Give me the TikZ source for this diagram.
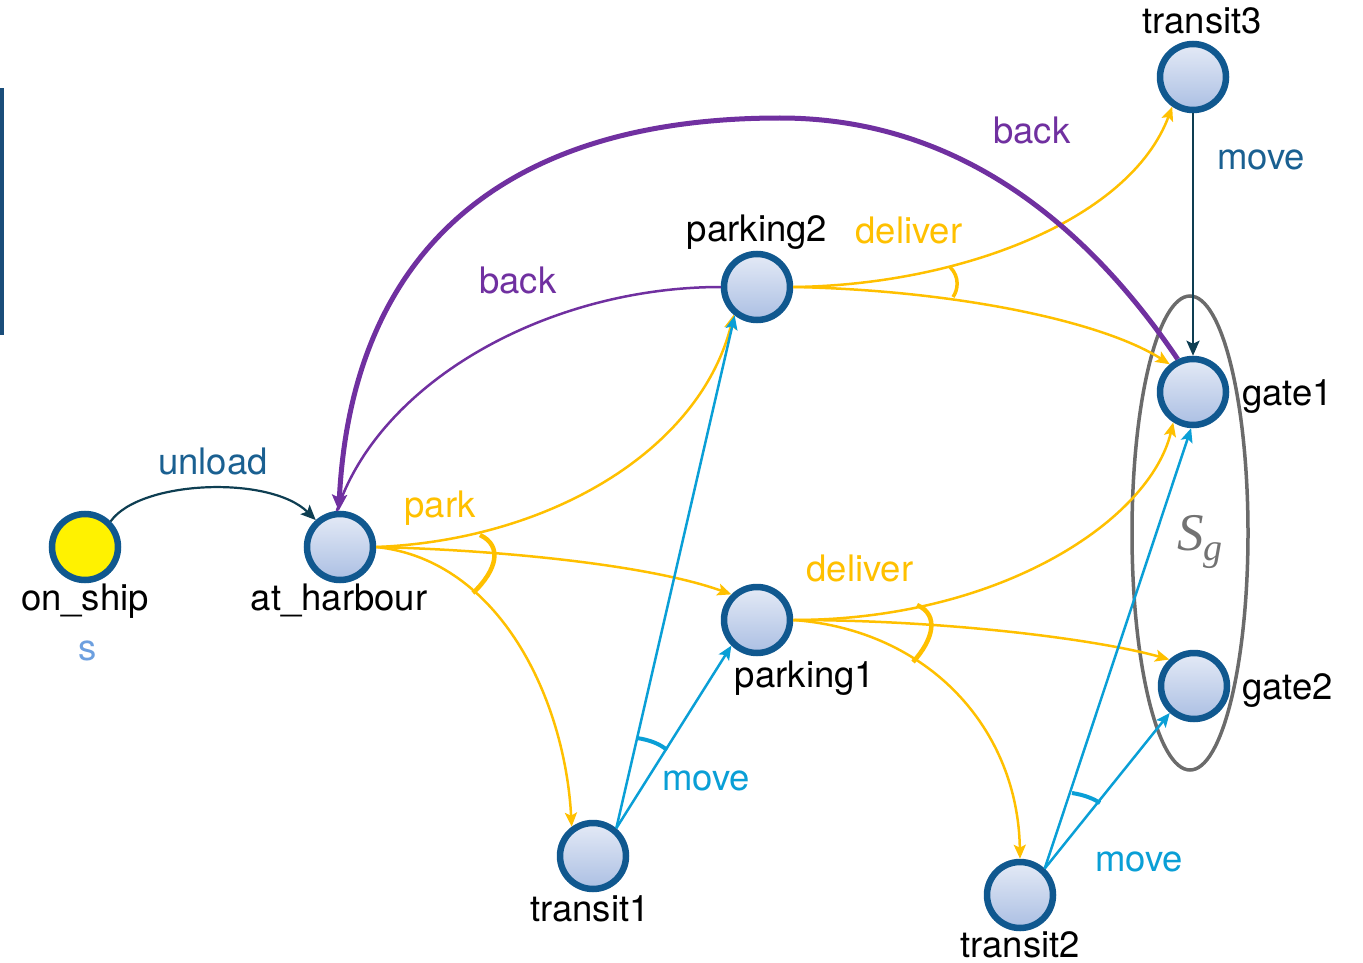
\documentclass[tikz,border=0pt]{standalone}
\usepackage{fontspec}
\setmainfont{TeX Gyre Heros}
\newfontfamily\sgfont{Liberation Serif}
\usetikzlibrary{arrows.meta,shadows}
\definecolor{gold}{HTML}{FFC000}
\definecolor{purp}{HTML}{7030A0}
\definecolor{cyanb}{HTML}{0A9FD6}
\definecolor{navy}{HTML}{0E3E52}
\definecolor{movedark}{HTML}{1A6091}
\definecolor{nodeblue}{HTML}{10588F}
\definecolor{nodetop}{HTML}{E4EAF6}
\definecolor{nodebot}{HTML}{ABBFE3}
\definecolor{slbl}{HTML}{6C9FDF}
\definecolor{ellgray}{HTML}{6B6B6B}
\definecolor{barblue}{HTML}{1A4D7A}
\newcommand{\sglabel}{{\sgfont\itshape\fontsize{53pt}{53pt}\selectfont S\raisebox{-10pt}{\fontsize{38pt}{38pt}\selectfont g}}}
\begin{document}
\begin{tikzpicture}[x=1pt,y=-1pt,
  statebase/.style={circle, minimum size=66pt, inner sep=0pt, line width=6.5pt, draw=nodeblue,
    drop shadow={shadow xshift=1.5pt, shadow yshift=-2.5pt, opacity=0.25}},
  state/.style={statebase, top color=nodetop, bottom color=nodebot},
  initstate/.style={statebase, fill=yellow},
  lbl/.style={font=\fontsize{36.5pt}{40pt}\selectfont, anchor=base, inner sep=0pt},
  goldedge/.style={draw=gold, line width=2.5pt, -{Stealth[length=14pt,width=12pt,inset=3pt]}},
  cyanedge/.style={draw=cyanb, line width=2.5pt, -{Stealth[length=14pt,width=12pt,inset=3pt]}},
  navyedge/.style={draw=navy, line width=2.5pt, -{Stealth[length=15pt,width=13pt,inset=3pt]}},
  purpthin/.style={draw=purp, line width=2.5pt},
  purpthick/.style={draw=purp, line width=5pt, -{Stealth[length=16pt,width=15pt,inset=3pt]}},
  goldarc/.style={draw=gold, line width=4.5pt},
  cyanarc/.style={draw=cyanb, line width=4pt}
]
\useasboundingbox (0,0) rectangle (1363,963);
% left bar
\fill[barblue] (0,88) rectangle (3.5,335);
% goal set ellipse
\draw[ellgray, line width=3.5pt] (1190,533) ellipse [x radius=58pt, y radius=237pt];
\node[lbl, text=ellgray!95] (sg) at (1200,550) {\sglabel};
% states
\node[initstate] (onship) at (85,547) {};
\node[state] (harbour) at (340,547) {};
\node[state] (parking2) at (757,287) {};
\node[state] (parking1) at (757,620) {};
\node[state] (transit1) at (593,856) {};
\node[state] (transit2) at (1020,895) {};
\node[state] (transit3) at (1193,77) {};
\node[state] (gate1) at (1193,392) {};
\node[state] (gate2) at (1194,686) {};
% state labels
\node[lbl] (lonship) at (85,610) {on\_ship};
\node[lbl, text=slbl] (ls) at (88,660) {s};
\node[lbl] (lharbour) at (339,610) {at\_harbour};
\node[lbl] (lparking2) at (757,241) {parking2};
\node[lbl] (lparking1) at (805,687) {parking1};
\node[lbl] (ltransit1) at (590,921) {transit1};
\node[lbl] (ltransit2) at (1020,957) {transit2};
\node[lbl] (ltransit3) at (1202,34) {transit3};
\node[lbl, anchor=base west] (lgate1) at (1242,405) {gate1};
\node[lbl, anchor=base west] (lgate2) at (1242,699) {gate2};
% action labels
\node[lbl, text=movedark] (lunload) at (213,474) {unload};
\node[lbl, text=gold] (lpark) at (440,517) {park};
\node[lbl, text=purp] (lback1) at (518,293) {back};
\node[lbl, text=purp] (lback2) at (1032,144) {back};
\node[lbl, text=gold] (ldeliver2) at (909,243) {deliver};
\node[lbl, text=gold] (ldeliver1) at (860,581) {deliver};
\node[lbl, text=movedark] (lmove3) at (1261,169) {move};
\node[lbl, text=cyanb] (lmove1) at (706,790) {move};
\node[lbl, text=cyanb] (lmove2) at (1139,871) {move};
% edges
\draw[navyedge, line width=2.2pt] (onship.45) .. controls (140,480) and (270,475) .. (harbour.132);
\draw[purpthin] (parking2.west) .. controls (550,287) and (380,380) .. (harbour.95);
\draw[goldedge] (harbour.east) .. controls (550,540) and (700,450) .. (parking2.230);
\draw[goldedge] (harbour.east) .. controls (500,550) and (650,565) .. (parking1.135);
\draw[goldedge] (harbour.east) .. controls (500,560) and (565,700) .. (transit1.126);
\draw[goldedge] (parking1.east) .. controls (1000,620) and (1150,520) .. (gate1.237);
\draw[goldedge] (parking1.east) .. controls (950,620) and (1100,640) .. (gate2.133);
\draw[goldedge] (parking1.east) .. controls (930,630) and (1018,730) .. (transit2.north);
\draw[goldedge] (parking2.east) .. controls (960,285) and (1130,220) .. (transit3.235);
\draw[goldedge] (parking2.east) .. controls (950,290) and (1100,320) .. (gate1.130);
\draw[navyedge] (transit3.south) -- (gate1.north);
\draw[cyanedge] (transit1.50) -- (parking2.232);
\draw[cyanedge] (transit1.50) -- (parking1.225);
\draw[cyanedge] (transit2.47) -- (gate1.267);
\draw[cyanedge] (transit2.47) -- (gate2.228);
\draw[purpthick] (gate1.115) .. controls (1080,215) and (950,118) .. (780,118)
  .. controls (510,118) and (352,245) .. (harbour.92);
% angle arcs
\draw[goldarc] (480,535) .. controls (503,546) and (497,570) .. (473,593);
\draw[goldarc] (917,605) .. controls (940,615) and (933,640) .. (913,662);
\draw[goldarc, line width=3.5pt] (950,267) .. controls (960,277) and (958,290) .. (953,297);
\draw[cyanarc] (637,738) .. controls (650,740) and (660,744) .. (667,750);
\draw[cyanarc] (1072,793) .. controls (1085,795) and (1094,799) .. (1100,803);
\end{tikzpicture}
\end{document}
